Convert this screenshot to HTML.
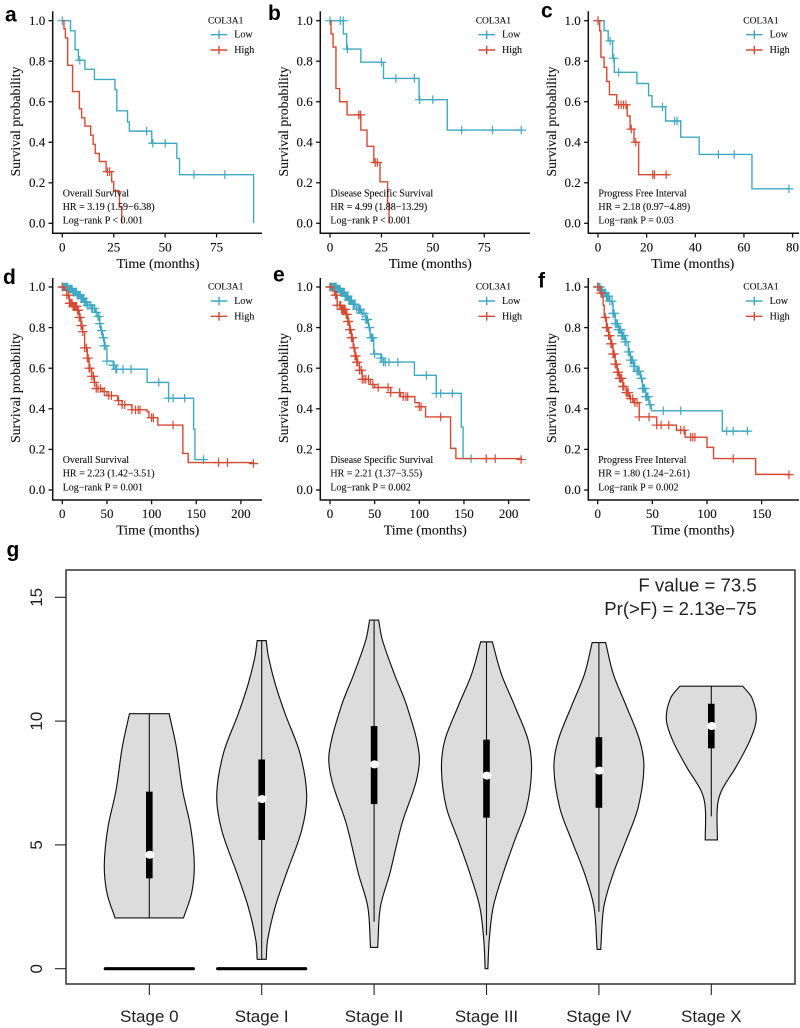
<!DOCTYPE html>
<html lang="en">
<head>
<meta charset="utf-8">
<title>COL3A1 survival and stage expression</title>
<style>
html,body{margin:0;padding:0;background:#fff;width:800px;height:1028px;overflow:hidden}
svg{display:block;filter:blur(.3px);background:#fff}
.km{font-family:"Liberation Serif",serif;fill:#111;stroke:#111;stroke-width:.12px}
.sans{font-family:"Liberation Sans",sans-serif;fill:#222}
.letter{font-family:"Liberation Sans",sans-serif;font-weight:bold;font-size:21px;fill:#000}
</style>
</head>
<body>
<svg id="figure" xmlns="http://www.w3.org/2000/svg" width="800" height="1028" viewBox="0 0 800 1028"></svg>
<script>
// Panel a
const aLowTimes=[0,4,6.2,7.8,11,15.6,25.6,26.5,31.7,32.6,43.5,55.7,57,93];
const aLowSurv=[1,.95,.857,.805,.76,.71,.66,.555,.5,.455,.395,.32,.24,0];
const aLowCensors=[0,8.5,41,44,50,64,79];
const aHighTimes=[0,.8,1.5,2.6,5,8.3,9.4,11,13.8,15,16,18,21.3,24,25,27.8,28.9];
const aHighSurv=[1,.96,.915,.78,.65,.565,.52,.48,.435,.39,.345,.305,.255,.205,.16,.08,0];
const aHighCensors=[22,23];
const aTicks=[0,25,50,75];
const aNotes=["Overall Survival","HR = 3.19 (1.59−6.38)","Log−rank P < 0.001"];
// Panel b
const bLowTimes=[0,6.5,8.1,15,26,43.3,57,93];
const bLowSurv=[1,.935,.86,.795,.715,.61,.46,.46];
const bLowCensors=[0,5,6.4,8.5,25,32,41,43.6,50,64,79,93];
const bHighTimes=[0,.5,1.5,2.9,4.7,8.3,15,18,21.3,24.3,28,28.7];
const bHighSurv=[1,.935,.87,.665,.6,.535,.46,.38,.3,.205,.1,0];
const bHighCensors=[14,14.8,22,23];
const bTicks=[0,25,50,75];
const bNotes=["Disease Specific Survival","HR = 4.99 (1.88−13.29)","Log−rank P < 0.001"];
// Panel c
const cLowTimes=[0,2.5,4.2,6,6.7,16,20.8,22.2,27.8,34,41.6,63.3,78.5];
const cLowSurv=[1,.95,.9,.815,.745,.69,.63,.575,.505,.425,.34,.17,.17];
const cLowCensors=[0,5,6.5,8.5,26.5,31.5,32.5,49.5,56,78.5];
const cHighTimes=[0,.7,1.2,2.5,3.6,4.7,7.7,12,13.2,14.8,16.7,29];
const cHighSurv=[1,.95,.82,.77,.7,.635,.585,.53,.465,.4,.24,.235];
const cHighCensors=[0,8.5,9.5,10.5,11.5,13.7,15.5,22.5,23.2,28];
const cTicks=[0,20,40,60,80];
const cNotes=["Progress Free Interval","HR = 2.18 (0.97−4.89)","Log−rank P = 0.03"];
// Panel d
const dLowTimes=[0,7,12,17,21,25,28,33,37,40,42,43,45,47,50,57,60,95,119,147,148.5,160];
const dLowSurv=[1,.99,.975,.96,.945,.925,.91,.895,.875,.855,.82,.785,.75,.71,.635,.615,.595,.53,.452,.3,.15,.145];
const dLowCensors=[0,1,2,3,4,5,6,7,8,9,10,11,12,13,14,15,16,17,18,19,20,21,22,23,24,25,26,27,28,30,32,33,34,36,38,40,41,42,44,46,47,48,50,57,58,60,61,68,77,108,119,124,137,158];
const dHighTimes=[0,2,5,8,12,17,19,21,23,25,28,30,33,36,38,45,50,62,67,78,95,97,107,135,141,214];
const dHighSurv=[1,.985,.96,.92,.905,.885,.85,.81,.78,.7,.65,.6,.56,.53,.5,.485,.465,.44,.42,.395,.386,.356,.32,.18,.135,.13];
const dHighCensors=[0,5,7,8,9,10,11,12,13,14,15,16,17,18,19,20,21,22,23,25,27,28,29,30,31,33,35,36,38,40,43,47,52,55,63,67,70,78,82,85,87,100,102,124,175,185,214];
const dTicks=[0,50,100,150,200];
const dNotes=["Overall Survival","HR = 2.23 (1.42−3.51)","Log−rank P = 0.001"];
// Panel e
const eLowTimes=[0,8,12,17,21,25,30,35,40,43,45,49,57,60,94.5,119,147,149,158];
const eLowSurv=[1,.99,.975,.955,.935,.915,.89,.87,.84,.8,.75,.67,.65,.63,.565,.476,.31,.155,.155];
const eLowCensors=[0,1,2,3,4,5,6,7,8,9,10,11,12,13,14,15,16,17,18,19,20,21,22,23,24,26,27,28,30,32,33,34,36,38,40,41,42,44,46,47,48,50,57,58,60,62,66,76,108,119,124,137,158];
const eHighTimes=[0,3,5,8,13,18,20,22,24,26,28,30,33,36,45,50,68,79,95,100,107,135,141,214];
const eHighSurv=[1,.98,.96,.91,.89,.865,.83,.79,.75,.7,.66,.63,.59,.545,.52,.505,.48,.46,.43,.41,.36,.205,.155,.15];
const eHighCensors=[0,6,7,8,11,12,13,14,15,16,17,18,19,20,21,22,23,24,25,27,28,29,30,31,33,35,36,38,40,43,48,54,65,68,78,82,85,87,100,102,124,175,185,214];
const eTicks=[0,50,100,150,200];
const eNotes=["Disease Specific Survival","HR = 2.21 (1.37−3.55)","Log−rank P = 0.002"];
// Panel f
const fLowTimes=[0,3,5,8,11,14,16,19,22,25,28,30,33,36,39,41,44,47,49,114,138];
const fLowSurv=[1,.985,.97,.955,.93,.87,.82,.79,.76,.73,.68,.64,.61,.585,.55,.5,.46,.42,.39,.29,.285];
const fLowCensors=[0,1,2,3,4,5,6,7,8,9,10,11,13,14,15,16,17,18,19,20,21,22,23,24,25,26,28,29,30,31,32,33,34,36,37,38,40,41,42,43,44,45,46,48,60,76,118,124,137];
const fHighTimes=[0,2,4,5,6,8,10,12,14,16,18,20,23,26,29,33,38,54,72,80,100,106,144.5,175];
const fHighSurv=[1,.97,.95,.91,.85,.8,.76,.72,.67,.62,.58,.55,.51,.48,.45,.43,.36,.32,.295,.26,.21,.155,.077,.075];
const fHighCensors=[0,3,7,8,9,10,11,12,13,14,15,16,17,18,19,20,21,22,23,24,26,27,28,30,32,34,36,38,47,54,58,65,76,79,85,87,89,124,175];
const fTicks=[0,50,100,150];
const fNotes=["Progress Free Interval","HR = 1.80 (1.24−2.61)","Log−rank P = 0.002"];

const survivalTicks=[0,0.2,0.4,0.6,0.8,1];
const legendLabels=["Low","High"];

// Violin panel g
const stageLabels=["Stage 0","Stage I","Stage II","Stage III","Stage IV","Stage X"];
const stageMedians=[4.6,6.85,8.25,7.8,8.0,9.8];
const stageQ1=[3.65,5.2,6.65,6.1,6.5,8.9];
const stageQ3=[7.15,8.45,9.8,9.25,9.35,10.7];
const stageWhiskerLow=[2.05,0.38,1.9,1.35,2.3,6.15];
const stageWhiskerHigh=[10.3,13.25,14.08,13.2,13.17,11.41];
const stageZeroBars=[0,0,null,null,null,null];
const violin0Values=[10.3,8.96,7.2,5.7,4.2,3.05,2.05];
const violin0Widths=[.44,.6,.74,.92,1,.94,.76];
const violin1Values=[13.25,12.6,11.5,10.3,8.7,7,5.6,3.85,2.5,1.15,.38];
const violin1Widths=[.1,.15,.3,.52,.85,1,.89,.55,.3,.13,.1];
const violin2Values=[14.08,13.27,11.9,10.6,8.7,7.6,5.87,3.85,2.5,.86];
const violin2Widths=[.1,.185,.45,.73,1,.94,.62,.35,.14,.08];
const violin3Values=[13.2,11.9,10.6,9.2,8,6.5,5.2,3.85,2.5,1.15,0];
const violin3Widths=[.13,.33,.63,.93,1,.89,.63,.37,.15,.06,.03];
const violin4Values=[13.17,11.9,10.6,9.2,8.1,6.5,5.2,3.85,2.5,.78];
const violin4Widths=[.15,.32,.61,.91,1,.87,.61,.32,.11,.04];
const violin5Values=[11.41,10.95,10.1,9.23,8.15,7.2,6.54,5.2];
const violin5Widths=[.7,.9,1,.86,.55,.23,.135,.135];
const expressionTicks=[0,5,10,15];
const statNotes=["F value = 73.5","Pr(>F) = 2.13e−75"];

const NS="http://www.w3.org/2000/svg";
const LOW_COLOR="#40a9c2", HIGH_COLOR="#d64a33";
const svg=document.getElementById("figure");

function make(parent,tag,attrs,text){
  const el=document.createElementNS(NS,tag);
  for(const k in attrs) el.setAttribute(k,attrs[k]);
  if(text!==undefined) el.textContent=text;
  parent.appendChild(el);
  return el;
}

const kmPanels=[
 {id:"a",lx:5,ly:21.7,ax:52.7,x0:62.3,perUnit:2.057,y1:20.7,y0:223.3,right:262,labelX:158,legendX:208,ticks:aTicks,notes:aNotes,low:[aLowTimes,aLowSurv,aLowCensors],high:[aHighTimes,aHighSurv,aHighCensors]},
 {id:"b",lx:268,ly:20,ax:320.3,x0:330,perUnit:2.057,y1:20.7,y0:223.3,right:530,labelX:430.3,legendX:475.7,ticks:bTicks,notes:bNotes,low:[bLowTimes,bLowSurv,bLowCensors],high:[bHighTimes,bHighSurv,bHighCensors]},
 {id:"c",lx:541,ly:17.5,ax:588.3,x0:598,perUnit:2.432,y1:20.7,y0:223.3,right:799,labelX:692.8,legendX:743.3,ticks:cTicks,notes:cNotes,low:[cLowTimes,cLowSurv,cLowCensors],high:[cHighTimes,cHighSurv,cHighCensors]},
 {id:"d",lx:3,ly:284,ax:52.7,x0:62.3,perUnit:.893,y1:287,y0:490,right:262,labelX:157.8,legendX:208,ticks:dTicks,notes:dNotes,low:[dLowTimes,dLowSurv,dLowCensors],high:[dHighTimes,dHighSurv,dHighCensors]},
 {id:"e",lx:273,ly:281.7,ax:320.3,x0:330,perUnit:.893,y1:287,y0:490,right:530,labelX:425.3,legendX:475.7,ticks:eTicks,notes:eNotes,low:[eLowTimes,eLowSurv,eLowCensors],high:[eHighTimes,eHighSurv,eHighCensors]},
 {id:"f",lx:538,ly:287.7,ax:588.3,x0:597.7,perUnit:1.093,y1:287,y0:490,right:799,labelX:692.8,legendX:743.3,ticks:fTicks,notes:fNotes,low:[fLowTimes,fLowSurv,fLowCensors],high:[fHighTimes,fHighSurv,fHighCensors]}
];

function survivalAt(times,surv,t){
  let s=surv[0];
  for(let i=0;i<times.length;i++){ if(times[i]<=t) s=surv[i]; }
  return s;
}

function drawCurve(g,p,series,color,groupName){
  const times=series[0], surv=series[1], censors=series[2];
  const xs=t=>p.x0+t*p.perUnit;
  const ys=s=>p.y0-s*(p.y0-p.y1);
  let d="M"+xs(times[0]).toFixed(2)+" "+ys(surv[0]).toFixed(2);
  for(let i=1;i<times.length;i++){
    d+=" H"+xs(times[i]).toFixed(2)+" V"+ys(surv[i]).toFixed(2);
  }
  const line=make(g,"path",{d:d,fill:"none",stroke:color,"stroke-width":1.4});
  
  
  censors.forEach(t=>{
    const cx=xs(t), cy=ys(survivalAt(times,surv,t));
    const m=make(g,"path",{d:"M"+(cx-4.7).toFixed(2)+" "+cy.toFixed(2)+" H"+(cx+4.7).toFixed(2)+" M"+cx.toFixed(2)+" "+(cy-4.3).toFixed(2)+" V"+(cy+4.3).toFixed(2),fill:"none",stroke:color,"stroke-width":1.2});
    
    
  });
}

kmPanels.forEach(p=>{
  const g=make(svg,"g",{});
  
  
  const letter=make(g,"text",{x:p.lx,y:p.ly,class:"letter"},p.id);
  
  
  const axisY=p.y0+10, axisTop=p.y0-212;
  const yAxis=make(g,"path",{d:"M"+p.ax+" "+axisTop+" V"+axisY+" H"+p.right,fill:"none",stroke:"#111","stroke-width":1.5});
  
  
  survivalTicks.forEach(v=>{
    const y=p.y0-v*(p.y0-p.y1);
    const t=make(g,"line",{x1:p.ax-4.2,x2:p.ax,y1:y,y2:y,stroke:"#111","stroke-width":1.3});
    
    
    const l=make(g,"text",{x:p.ax-7.5,y:y+4.2,"text-anchor":"end","font-size":"13px",class:"km"},v.toFixed(1));
    
    
  });
  p.ticks.forEach(v=>{
    const x=p.x0+v*p.perUnit;
    const t=make(g,"line",{x1:x,x2:x,y1:axisY,y2:axisY+4.2,stroke:"#111","stroke-width":1.3});
    
    
    const l=make(g,"text",{x:x,y:axisY+18,"text-anchor":"middle","font-size":"13px",class:"km"},String(v));
    
    
  });
  const xt=make(g,"text",{x:p.labelX,y:axisY+34.5,"text-anchor":"middle","font-size":"14px",class:"km"},"Time (months)");
  
  
  const yc=(p.y0+p.y1)/2-0.5, yb=p.ax-32.5;
  const yt=make(g,"text",{x:yb,y:yc,"text-anchor":"middle","font-size":"13.7px",class:"km",transform:"rotate(-90 "+yb+" "+yc+")"},"Survival probability");
  
  

  drawCurve(g,p,p.low,LOW_COLOR,"low");
  drawCurve(g,p,p.high,HIGH_COLOR,"high");

  const lt=make(g,"text",{x:p.legendX,y:p.y1+2.6,"font-size":"9.5px",class:"km"},"COL3A1");
  
  
  legendLabels.forEach((name,i)=>{
    const ly=p.y1+14+i*15.3, color=i===0?LOW_COLOR:HIGH_COLOR;
    const lx=p.legendX+2.7, mid=lx+8.3;
    const key=make(g,"path",{d:"M"+lx+" "+ly+" H"+(lx+16.6)+" M"+mid+" "+(ly-4.3)+" V"+(ly+4.3),fill:"none",stroke:color,"stroke-width":1.4});
    
    
    const lab=make(g,"text",{x:p.legendX+26.3,y:ly+3,"font-size":"10px",class:"km"},name);
    
    
  });
  p.notes.forEach((txt,i)=>{
    const dy=[-26.8,-13.3,0.4][i];
    const n=make(g,"text",{x:p.x0+0.4,y:p.y0+dy,"font-size":"10px",class:"km"},txt);
    
    
  });
});

// Violin plot
const violinShapes=[
  [violin0Values,violin0Widths],[violin1Values,violin1Widths],[violin2Values,violin2Widths],
  [violin3Values,violin3Widths],[violin4Values,violin4Widths],[violin5Values,violin5Widths]
];
const box={left:66,top:570,right:795,bottom:984};
const yExpr=v=>968.7-v*24.76;
const xStage=i=>149.3+i*112.4;
const maxHalfWidth=45;

// Hermite spline with x as a function of y, so uneven sampling does not add bumps.
function smoothSide(pts){
  const n=pts.length;
  const slope=i=>{
    const a=pts[Math.max(i-1,0)], b=pts[Math.min(i+1,n-1)];
    return (b[0]-a[0])/(b[1]-a[1]);
  };
  let d="";
  for(let i=0;i<n-1;i++){
    const h=pts[i+1][1]-pts[i][1];
    const c1x=pts[i][0]+slope(i)*h/3, c2x=pts[i+1][0]-slope(i+1)*h/3;
    d+=" C"+c1x.toFixed(2)+" "+(pts[i][1]+h/3).toFixed(2)+" "+c2x.toFixed(2)+" "+(pts[i+1][1]-h/3).toFixed(2)+" "+pts[i+1][0].toFixed(2)+" "+pts[i+1][1].toFixed(2);
  }
  return d;
}

const vg=make(svg,"g",{});


const gLetter=make(vg,"text",{x:6.5,y:556.5,class:"letter"},"g");


const frame=make(vg,"rect",{x:box.left,y:box.top,width:box.right-box.left,height:box.bottom-box.top,fill:"none",stroke:"#333","stroke-width":1.5});



expressionTicks.forEach(v=>{
  const y=yExpr(v);
  const t=make(vg,"line",{x1:box.left-11,x2:box.left,y1:y,y2:y,stroke:"#222","stroke-width":1.1});
  
  
  const l=make(vg,"text",{x:41.8,y:y,"text-anchor":"middle","font-size":"17px",class:"sans",transform:"rotate(-90 41.8 "+y+")"},String(v));
  
  
});

stageLabels.forEach((label,i)=>{
  const cx=xStage(i);
  const vals=violinShapes[i][0], widths=violinShapes[i][1];
  const right=vals.map((v,k)=>[cx+widths[k]*maxHalfWidth,yExpr(v)]);
  const left=vals.map((v,k)=>[cx-widths[k]*maxHalfWidth,yExpr(v)]).reverse();
  const d="M"+right[0][0].toFixed(2)+" "+right[0][1].toFixed(2)+smoothSide(right)+" L"+left[0][0].toFixed(2)+" "+left[0][1].toFixed(2)+smoothSide(left)+" Z";
  const body=make(vg,"path",{d:d,fill:"#dcdcdc",stroke:"#111","stroke-width":1.15});
  
  
  const w=make(vg,"line",{x1:cx,x2:cx,y1:yExpr(stageWhiskerHigh[i]),y2:yExpr(stageWhiskerLow[i]),stroke:"#111","stroke-width":1.1});
  
  
  const b=make(vg,"rect",{x:cx-3.3,width:6.6,y:yExpr(stageQ3[i]),height:yExpr(stageQ1[i])-yExpr(stageQ3[i]),fill:"#000"});
  
  
  const m=make(vg,"ellipse",{cx:cx+0.4,cy:yExpr(stageMedians[i]),rx:4.6,ry:4,fill:"#fff"});
  
  
  if(stageZeroBars[i]!==null){
    const z=make(vg,"line",{x1:cx-maxHalfWidth+1,x2:cx+maxHalfWidth-1,y1:yExpr(stageZeroBars[i]),y2:yExpr(stageZeroBars[i]),stroke:"#000","stroke-width":3.2,"stroke-linecap":"round"});
    
    
  }
  const t=make(vg,"line",{x1:cx,x2:cx,y1:box.bottom,y2:box.bottom+11,stroke:"#222","stroke-width":1.1});
  
  
  const l=make(vg,"text",{x:cx,y:1022,"text-anchor":"middle","font-size":"17px",class:"sans"},label);
  
  
});

statNotes.forEach((txt,i)=>{
  const n=make(vg,"text",{x:756.7,y:591.7+i*23.3,"text-anchor":"end","font-size":"18.6px",class:"sans"},txt);
  
  
});
</script>
</body>
</html>
